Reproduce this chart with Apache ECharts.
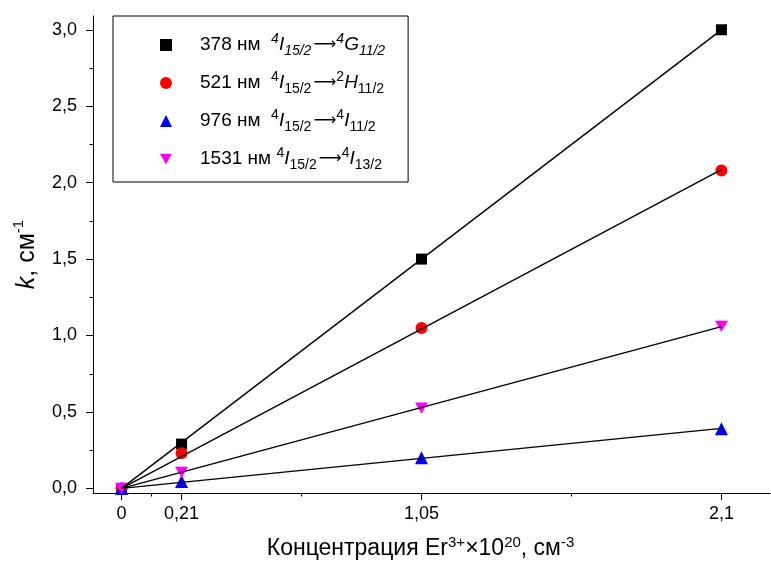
<!DOCTYPE html>
<html><head><meta charset="utf-8">
<script src="https://cdn.jsdelivr.net/npm/echarts@6/dist/echarts.min.js"></script>
<style>html,body{margin:0;padding:0;background:#fff}#c{width:771px;height:563px}</style>
</head><body><div id="c"></div>
<script>
const concentrations = [0, 0.21, 1.05, 2.1];
const k378 = [0, 0.29, 1.50, 3.00];
const k521 = [0, 0.23, 1.05, 2.08];
const k976 = [0, 0.045, 0.20, 0.39];
const k1531 = [0, 0.105, 0.525, 1.06];
const seriesNames = ['378', '521', '976', '1531'];
const xTickLabels = [0, 0.21, 1.05, 2.1];
const xMinorTicks = [0.105, 0.63, 1.575];
const yTickLabels = [0, 0.5, 1, 1.5, 2, 2.5, 3];
const yMinorTicks = [0.25, 0.75, 1.25, 1.75, 2.25, 2.75];

const FONT = 'Liberation Sans, Arial, sans-serif';
const allK = [k378, k521, k976, k1531];
const colors = ['#000000', '#ff0000', '#0000ff', '#ff00ff'];
const symbols = ['rect', 'circle', 'triangle', 'path://M0,0L10,0L5,8.66Z'];
const symSizes = [11, 12, 13, 13];

function pairs(ys) { return concentrations.map((x, i) => [x, ys[i]]); }
function fitLine(ys) {
  let sxy = 0, sxx = 0;
  concentrations.forEach((x, i) => { sxy += x * ys[i]; sxx += x * x; });
  const s = sxy / sxx;
  const x0 = concentrations[0], x1 = concentrations[concentrations.length - 1];
  return [[x0, s * x0], [x1, s * x1]];
}

const legendLabels = {
  '378': '{n|378 нм  }{spi|4}{i|I}{sbi|15/2}{ar|⟶}{spi|4}{i|G}{sbi|11/2}',
  '521': '{n|521 нм  }{sp|4}{i|I}{sb|15/2}{ar|⟶}{sp|2}{i|H}{sb|11/2}',
  '976': '{n|976 нм  }{sp|4}{i|I}{sb|15/2}{ar|⟶}{sp|4}{i|I}{sb|11/2}',
  '1531': '{n|1531 нм }{sp|4}{i|I}{sb|15/2}{ar|⟶}{sp|4}{i|I}{sb|13/2}'
};
const LH = 26;
const rich = {
  n: { fontSize: 19, fontFamily: FONT, color: '#000', lineHeight: LH },
  i: { fontSize: 19, fontFamily: FONT, fontStyle: 'italic', color: '#000', lineHeight: LH },
  ar: { fontSize: 16, fontFamily: 'DejaVu Sans', color: '#000', lineHeight: LH, padding: [0, 0, 0, 2] },
  sp: { fontSize: 14, fontFamily: FONT, color: '#000', verticalAlign: 'top', lineHeight: 13 },
  sb: { fontSize: 14, fontFamily: FONT, color: '#000', verticalAlign: 'bottom', lineHeight: 13 },
  spi: { fontSize: 14, fontFamily: FONT, fontStyle: 'italic', color: '#000', verticalAlign: 'top', lineHeight: 13 },
  sbi: { fontSize: 14, fontFamily: FONT, fontStyle: 'italic', color: '#000', verticalAlign: 'bottom', lineHeight: 13 }
};

const series = [];
seriesNames.forEach((nm, i) => {
  series.push({
    name: nm, type: 'scatter', data: pairs(allK[i]),
    symbol: symbols[i], symbolSize: symSizes[i], symbolKeepAspect: true,
    itemStyle: { color: colors[i], opacity: 1 }, z: 2 + i, xAxisIndex: 0, yAxisIndex: 0
  });
});
seriesNames.forEach((nm, i) => {
  series.push({
    name: nm + '_fit', type: 'line', data: fitLine(allK[i]), showSymbol: false, symbol: 'none',
    lineStyle: { color: '#000', width: 1.4 }, z: 10, silent: true, xAxisIndex: 0, yAxisIndex: 0
  });
});

const xFmt = v => String(v).replace('.', ',');
const yFmt = v => v.toFixed(1).replace('.', ',');

const chart = echarts.init(document.getElementById('c'), null, { renderer: 'canvas' });
chart.setOption({
  animation: false,
  backgroundColor: '#fff',
  grid: { left: 93, right: 1, top: 16, bottom: 70, containLabel: false, outerBoundsMode: 'none' },
  legend: {
    data: seriesNames, orient: 'vertical', left: 113, top: 16,
    padding: [16, 23, 10, 47], itemGap: 12, itemWidth: 12, itemHeight: 12,
    borderColor: '#000', borderWidth: 1, backgroundColor: '#fff',
    formatter: name => legendLabels[name],
    textStyle: { padding: [0, 0, 0, 23], rich: rich }, selectedMode: false
  },
  xAxis: [{
    type: 'value', min: -0.1, max: 2.27,
    axisLine: { show: true, onZero: false, lineStyle: { color: '#000', width: 1 } },
    axisTick: { show: true, inside: false, length: 7, customValues: xTickLabels, lineStyle: { color: '#000' } },
    axisLabel: { show: true, customValues: xTickLabels, formatter: xFmt, fontSize: 18, fontFamily: FONT, color: '#000', margin: 12 },
    splitLine: { show: false },
    name: '{n|Концентрация Er}{sp|3+}{n|×10}{sp|20}{n|, см}{sp|-3}', nameLocation: 'middle', nameGap: 42,
    nameTextStyle: { padding: [0, 22, 0, 0], rich: {
      n: { fontSize: 23, fontFamily: FONT, color: '#000', lineHeight: 28 },
      sp: { fontSize: 15, fontFamily: FONT, color: '#000', verticalAlign: 'top', lineHeight: 14 }
    } }
  }, {
    type: 'value', min: -0.1, max: 2.27, position: 'bottom',
    axisLine: { show: false, onZero: false },
    axisTick: { show: true, inside: false, length: 3.5, customValues: xMinorTicks, lineStyle: { color: '#000' } },
    axisLabel: { show: false }, splitLine: { show: false }
  }],
  yAxis: [{
    type: 'value', min: -0.03, max: 3.09,
    axisLine: { show: true, onZero: false, lineStyle: { color: '#000', width: 1 } },
    axisTick: { show: true, inside: false, length: 7, customValues: yTickLabels, lineStyle: { color: '#000' } },
    axisLabel: { show: true, customValues: yTickLabels, formatter: yFmt, fontSize: 18, fontFamily: FONT, color: '#000', margin: 16 },
    splitLine: { show: false },
    name: '{i|k}{n|, см}{sp|-1}', nameLocation: 'middle', nameGap: 50, nameRotate: 90,
    nameTextStyle: { rich: {
      n: { fontSize: 25, fontFamily: FONT, color: '#000', lineHeight: 32 },
      i: { fontSize: 25, fontFamily: FONT, fontStyle: 'italic', color: '#000', lineHeight: 32 },
      sp: { fontSize: 15, fontFamily: FONT, color: '#000', verticalAlign: 'top', lineHeight: 15 }
    } }
  }, {
    type: 'value', min: -0.03, max: 3.09, position: 'left',
    axisLine: { show: false, onZero: false },
    axisTick: { show: true, inside: false, length: 3.5, customValues: yMinorTicks, lineStyle: { color: '#000' } },
    axisLabel: { show: false }, splitLine: { show: false }
  }],
  series: series
});
</script></body></html>
